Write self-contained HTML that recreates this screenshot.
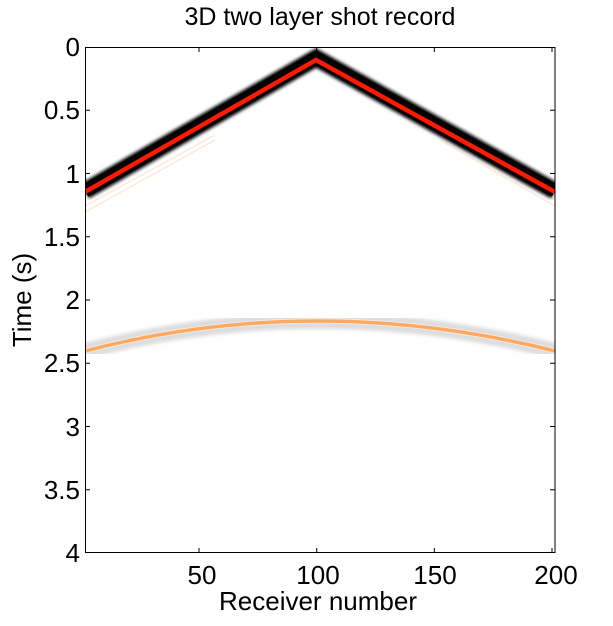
<!DOCTYPE html>
<html><head><style>body{margin:0;background:#fff}</style></head><body>
<svg width="613" height="621" xmlns="http://www.w3.org/2000/svg" font-family="Liberation Sans, sans-serif">
<defs><filter id="b"><feGaussianBlur stdDeviation="1.5"/></filter></defs>
<rect width="613" height="621" fill="#fff"/>
<!-- second event -->
<path d="M85,351 Q316,291 555,351" fill="none" stroke="#ddd" stroke-width="16" filter="url(#b)"/>
<path d="M85,351 Q316,291 555,351" fill="none" stroke="#fff" stroke-width="5" opacity="0.6"/>
<path d="M85,351 Q316,291 555,351" fill="none" stroke="#ffa860" stroke-width="3.5"/>
<!-- faint orange -->
<path d="M85,212 L215,140 M85,206 L215,135" stroke="#fde0c8" stroke-width="1.5" opacity="0.7"/>
<path d="M555,206 L440,140 M555,200 L440,134" stroke="#fde0c8" stroke-width="1.5" opacity="0.7"/>
<!-- direct wave -->
<path d="M85,191 L316,58 L555,191" fill="none" stroke="#000" stroke-width="17" stroke-linejoin="miter" stroke-miterlimit="10" filter="url(#b)"/>
<path d="M85,191 L316,58 L555,191" fill="none" stroke="#000" stroke-width="13" stroke-linejoin="miter" stroke-miterlimit="10"/>
<path d="M85,192 L316,60 L555,192" fill="none" stroke="#ff1a00" stroke-width="4.5" stroke-linejoin="miter" stroke-miterlimit="10"/>
<rect x="0" y="0" width="85" height="621" fill="#fff"/>
<rect x="555.5" y="0" width="58" height="621" fill="#fff"/>
<rect x="0" y="0" width="613" height="46.5" fill="#fff"/>
<text x="320" y="25" font-size="25" text-anchor="middle">3D two layer shot record</text>
<rect x="85.5" y="47.5" width="469.5" height="505" fill="none" stroke="#000" stroke-width="1"/>
<g stroke="#000" stroke-width="1">
<path d="M199,47 v5 M316.7,47 v5 M434.3,47 v5 M552,47 v5 M199,553 v-5 M316.7,553 v-5 M434.3,553 v-5 M552,553 v-5"/>
<path d="M85,110.3 h5 M85,173.5 h5 M85,236.8 h5 M85,300 h5 M85,363.3 h5 M85,426.5 h5 M85,489.8 h5 M555,110.3 h-5 M555,173.5 h-5 M555,236.8 h-5 M555,300 h-5 M555,363.3 h-5 M555,426.5 h-5 M555,489.8 h-5"/>
</g>
<g font-size="26" text-anchor="end">
<text x="80" y="56">0</text><text x="80" y="119">0.5</text><text x="80" y="183">1</text><text x="80" y="246">1.5</text>
<text x="80" y="309">2</text><text x="80" y="372">2.5</text><text x="80" y="436">3</text><text x="80" y="499">3.5</text><text x="80" y="562">4</text>
</g>
<g font-size="26" text-anchor="middle">
<text x="202" y="584">50</text><text x="318" y="584">100</text><text x="435" y="584">150</text><text x="556" y="584">200</text>
</g>
<text x="318" y="610" font-size="26" text-anchor="middle">Receiver number</text>
<text transform="translate(31,300) rotate(-90)" font-size="26" text-anchor="middle">Time (s)</text>
</svg>
</body></html>
